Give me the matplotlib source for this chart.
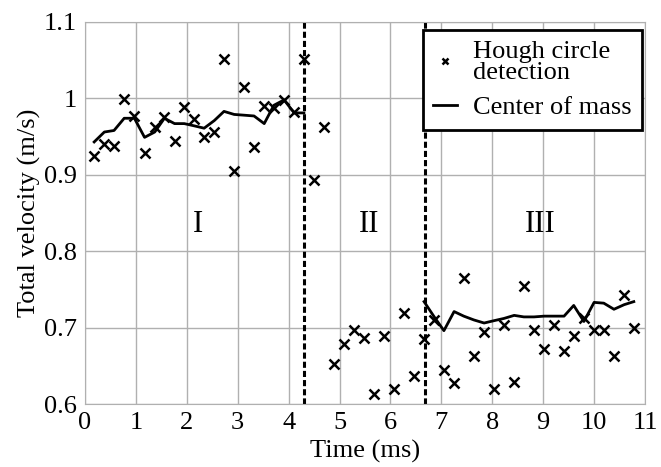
import matplotlib.pyplot as plt
import numpy as np

plt.rcParams['font.family'] = ['Liberation Serif', 'DejaVu Serif']
plt.rcParams['mathtext.fontset'] = 'stix'

# frame times (ms)
time_ms = [0.18, 0.38, 0.57, 0.77, 0.97, 1.17, 1.37, 1.56, 1.76, 1.95,
           2.15, 2.34, 2.54, 2.73, 2.93, 3.13, 3.32, 3.52, 3.71, 3.91,
           4.11, 4.30, 4.50, 4.70, 4.89, 5.09, 5.28, 5.48, 5.68, 5.87,
           6.07, 6.27, 6.46, 6.66, 6.86, 7.05, 7.25, 7.44, 7.64, 7.84,
           8.03, 8.23, 8.43, 8.62, 8.82, 9.02, 9.21, 9.41, 9.60, 9.80,
           10.00, 10.19, 10.39, 10.59, 10.78]

hough = [0.925, 0.940, 0.938, 0.999, 0.977, 0.929, 0.963, 0.975, 0.944, 0.989,
         0.973, 0.949, 0.956, 1.051, 0.905, 1.015, 0.937, 0.990, 0.988, 0.998,
         0.982, 1.052, 0.893, 0.963, 0.652, 0.678, 0.697, 0.687, 0.613, 0.689,
         0.620, 0.719, 0.637, 0.685, 0.710, 0.645, 0.627, 0.765, 0.663, 0.694,
         0.619, 0.703, 0.629, 0.754, 0.697, 0.672, 0.704, 0.669, 0.689, 0.712,
         0.697, 0.697, 0.663, 0.743, 0.700]

nan = np.nan
center_mass = [0.943, 0.956, 0.958, 0.974, 0.974, 0.949, 0.956, 0.974, 0.967, 0.967,
               0.964, 0.961, 0.971, 0.983, 0.979, 0.978, 0.977, 0.967, 0.991, 0.998,
               0.981, 0.981, nan, nan, nan, nan, nan, nan, nan, nan,
               nan, nan, nan, 0.734, 0.714, 0.696, 0.721, 0.715, 0.710, 0.706,
               0.709, 0.712, 0.716, 0.714, 0.714, 0.715, 0.715, 0.715, 0.729, 0.708,
               0.733, 0.732, 0.724, 0.730, 0.734]

boundaries = [4.31, 6.67]
regions = ['I', 'II', 'III']
region_x = [2.22, 5.58, 8.94]

fig = plt.figure(figsize=(6.61, 4.67), dpi=100)
ax = fig.add_axes([0.1286, 0.1349, 0.8472, 0.818])

ax.plot(time_ms, hough, 'x', color='black', markersize=7, mew=1.8,
        label='Hough circle\ndetection')
ax.plot(time_ms, center_mass, '-', color='black', lw=2.0, label='Center of mass')
for b in boundaries:
    ax.axvline(b, color='black', lw=2.2, linestyle=(0, (2, 1)))
for name, xr in zip(regions, region_x):
    ax.text(xr, 0.835, name, fontsize=22, ha='center', va='center')

ax.set_xlim(0, 11)
ax.set_ylim(0.6, 1.1)
ax.set_xticks(range(12))
ax.set_yticks([0.6, 0.7, 0.8, 0.9, 1.0, 1.1])
ax.set_yticklabels(['0.6', '0.7', '0.8', '0.9', '1', '1.1'])
ax.tick_params(length=0, labelsize=19)
ax.tick_params(axis='x', pad=6)
ax.tick_params(axis='y', pad=6)
ax.grid(True, color='#b0b0b0', lw=1)
for s in ax.spines.values():
    s.set_color('#b0b0b0')
ax.set_xlabel('Time (ms)', fontsize=19, labelpad=4)
ax.set_ylabel('Total velocity (m/s)', fontsize=19, labelpad=2)

leg = ax.legend(loc='upper right', bbox_to_anchor=(0.995, 0.979), borderaxespad=0,
                fontsize=19, fancybox=False, framealpha=1, edgecolor='black',
                handlelength=0.9, handletextpad=0.6, labelspacing=0.45,
                borderpad=0.4, markerscale=0.7)
leg.get_frame().set_linewidth(2)
for t in leg.get_texts():
    t.set_linespacing(0.95)

fig.savefig('out.png', dpi=100)
